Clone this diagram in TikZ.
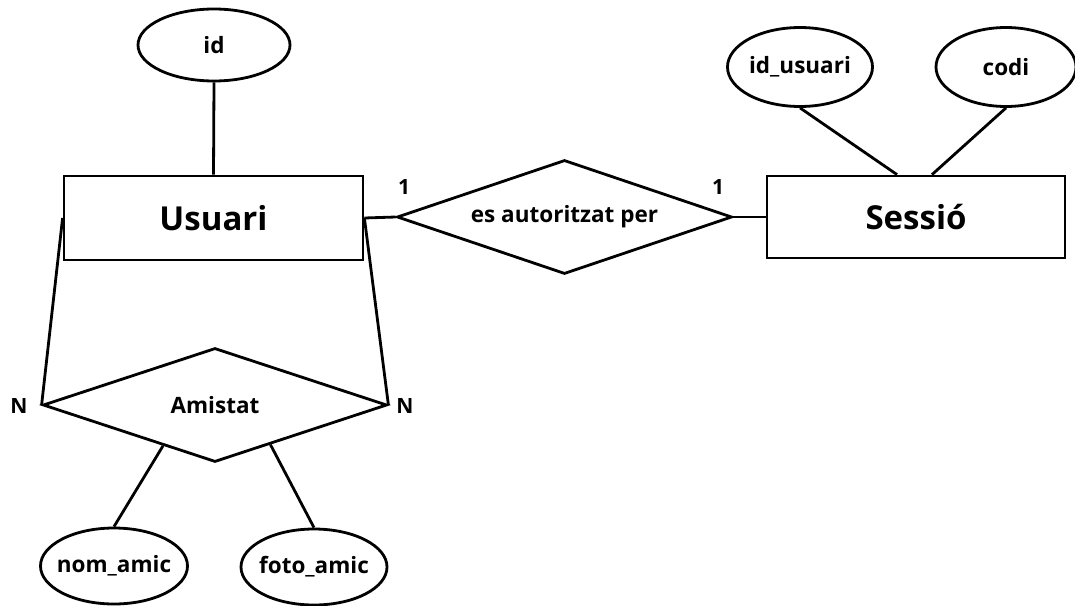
\documentclass[tikz,border=0pt]{standalone}
\usepackage{fontspec}
\setmainfont{Open Sans}
\usetikzlibrary{shapes.geometric,calc}
\begin{document}
\begin{tikzpicture}[x=1pt,y=-1pt,
  every node/.style={font=\bfseries\fontsize{22.5}{26}\selectfont, line width=2.8pt, inner sep=0pt},
  entity/.style={draw, rectangle, minimum width=299pt, minimum height=84pt, font=\bfseries\fontsize{33}{40}\selectfont},
  attrib/.style={draw, ellipse, inner xsep=-14pt, inner ysep=-6pt, minimum width=146pt, minimum height=76pt},
  relation/.style={draw, diamond, shape aspect=3, minimum width=340pt, minimum height=114pt},
  link/.style={line width=2.8pt},
  card/.style={font=\bfseries\fontsize{21}{25}\selectfont}]
\useasboundingbox (0,0) rectangle (1075,605);

% entities
\node[entity] (usuari) at (213.5,218) {Usuari};
\node[entity, minimum width=298pt, minimum height=82pt] (sessio) at (916,217) {Sessió};

% relationships
\node[relation, minimum width=335pt] (autor) at (564.5,217) {es autoritzat per};
\node[relation, minimum width=344pt] (amistat) at (215,405) {Amistat};

% attributes
\node[attrib, minimum width=152pt, minimum height=72pt] (id) at (214,45) {id};
\node[attrib, minimum width=145pt, minimum height=79pt] (idusuari) at (800,67) {id\_usuari};
\node[attrib, minimum width=140pt, minimum height=79pt] (codi) at (1006,67) {codi};
\node[attrib, minimum width=147pt, minimum height=76pt] (nomamic) at (114,566) {nom\_amic};
\node[attrib, minimum width=146pt, minimum height=76pt] (fotoamic) at (314,567) {foto\_amic};

% cardinalities
\node[card] (c1) at (404,187) {1};
\node[card] (c2) at (718,187) {1};
\node[card] (n1) at (19,406) {N};
\node[card] (n2) at (405,406) {N};

% connectors
\draw[link] (id.south) -- (usuari.north);
\draw[link] (usuari.east) -- (autor.west);
\draw[link] (autor.east) -- (sessio.west);
\draw[link] (idusuari.south) -- ([xshift=-19pt]sessio.north);
\draw[link] (codi.south) -- ([xshift=16pt]sessio.north);
\draw[link] (usuari.west) -- (amistat.west);
\draw[link] (usuari.east) -- (amistat.east);
\draw[link] ($(amistat.west)!0.7!(amistat.south)$) -- (nomamic.north);
\draw[link] ($(amistat.east)!0.68!(amistat.south)$) -- (fotoamic.north);
\end{tikzpicture}
\end{document}
